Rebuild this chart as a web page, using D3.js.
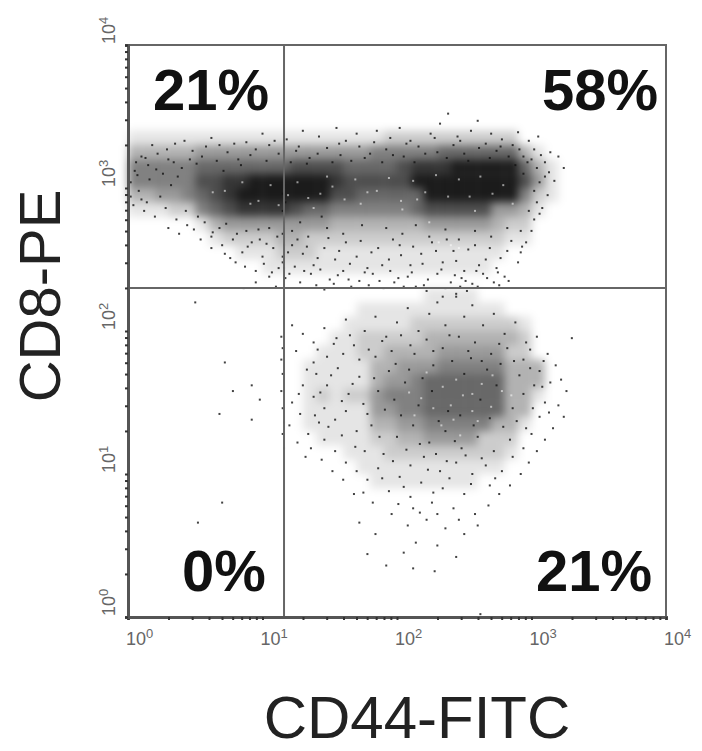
<!DOCTYPE html>
<html>
<head>
<meta charset="utf-8"/>
<script src="https://cdn.jsdelivr.net/npm/d3@7"></script>
<style>
  html, body { margin: 0; background: #fff; }
  text { font-family: "Liberation Sans", Arial, sans-serif; }
</style>
</head>
<body>
<script>
// Everything is in log10 fluorescence (decades).
// The original has many thousands of events; they can't be recovered one by one, so
// densityRows holds the darkness (0-9) read per 0.1 x 0.1 decade cell, the event
// lists hold a hand-read sample of dots and gapEvents the white specks in the dark core.
var decades = [0, 1, 2, 3, 4];
var gateCD44 = 1.16;
var gateCD8 = 2.30;
var quadrantLabels = ["21%", "58%", "0%", "21%"];

var densityTopDecade = 3.4;
var densityRows = [
  "1111111111111111111222222222200000",
  "3333344444444444445555566666631000",
  "5555566666667777666678889999963100",
  "5555577889999998777779999999974100",
  "3344567899999997766666999999952100",
  "1112256788887665555556777774431000",
  "0000013444444443333333444443220000",
  "0000001222233222222222222222110000",
  "0000000011122211111111111111000000",
  "0000000000111111111111111110000000",
  "0000000000000000000000000000000000",
  "0000000000000000000000111100000000",
  "0000000000000000011111111111000000",
  "0000000000000000111112222222210000",
  "0000000000000001122222333333320000",
  "0000000000000011122333344444220000",
  "0000000000000111113344455555333000",
  "0000000000000111113445666666333000",
  "0000000000000121224555666666331000",
  "0000000000000111114455666666330000",
  "0000000000000111113344555553310000",
  "0000000000000011112233444422200000",
  "0000000000000000111222222222100000",
  "0000000000000000011111111111000000",
  "0000000000000000001111111100000000"
];

var upperEvents = [
  [0.18,3.30],[0.35,3.31],[0.42,3.33],[0.62,3.35],[0.68,3.30],[0.88,3.32],[1.00,3.38],[1.05,3.30],[1.18,3.34],[1.30,3.40],
  [1.42,3.36],[1.55,3.42],[1.62,3.33],[1.70,3.38],[1.85,3.40],[1.95,3.35],[2.02,3.42],[2.10,3.33],[2.25,3.38],[2.32,3.45],
  [2.38,3.52],[2.45,3.36],[2.55,3.40],[2.60,3.47],[2.70,3.38],[2.78,3.34],[2.90,3.39],[2.98,3.33],[3.05,3.36],[3.20,3.22],
  [3.24,3.14],[3.14,3.25],[3.10,3.18],[3.17,3.05],[3.12,2.95],[3.08,2.86],[3.02,2.78],[3.00,2.70],[2.96,2.62],[2.92,2.55],
  [0.10,3.22],[0.22,3.24],[0.30,3.20],[0.48,3.26],[0.55,3.22],[0.74,3.25],[0.82,3.20],[0.95,3.27],[1.12,3.24],[1.25,3.26],
  [1.35,3.21],[1.48,3.28],[1.58,3.23],[1.72,3.29],[1.80,3.24],[1.92,3.27],[2.05,3.22],[2.16,3.29],[2.30,3.25],[2.42,3.30],
  [2.50,3.24],[2.66,3.31],[2.74,3.26],[2.86,3.30],[2.94,3.22],[3.02,3.27],[0.05,3.12],[0.15,3.16],[0.26,3.10],[0.40,3.14],
  [0.04,2.88],[0.12,2.84],[0.20,2.80],[0.28,2.86],[0.36,2.78],[0.44,2.74],[0.52,2.80],[0.10,2.92],[0.30,2.72],[0.38,2.68],
  [0.62,2.66],[0.70,2.60],[0.78,2.64],[0.85,2.55],[0.92,2.62],[1.00,2.52],[1.08,2.58],[1.15,2.48],[1.22,2.60],[1.30,2.54],
  [1.38,2.46],[1.46,2.58],[1.54,2.50],[1.62,2.62],[1.70,2.52],[1.78,2.44],[1.86,2.58],[1.94,2.50],[2.02,2.60],[2.10,2.46],
  [2.18,2.54],[2.26,2.62],[2.34,2.48],[2.42,2.56],[2.50,2.42],[2.58,2.60],[2.66,2.50],[2.74,2.44],[2.82,2.56],[2.90,2.48],
  [0.80,2.48],[0.95,2.42],[1.05,2.38],[1.12,2.44],[1.20,2.40],[1.28,2.34],[1.36,2.40],[1.50,2.36],[1.60,2.42],[1.72,2.35],
  [1.82,2.40],[1.98,2.34],[2.08,2.38],[2.20,2.32],[2.30,2.40],[2.40,2.34],[2.48,2.37],[2.56,2.33],[2.64,2.40],[2.72,2.34],
  [2.80,2.38],[0.95,2.34],[1.10,2.31],[1.40,2.32],[1.66,2.31],[1.90,2.30],[2.14,2.31],[2.36,2.30],[2.60,2.31],[2.76,2.32],
  [0.86,2.30],[1.46,2.29],[2.22,2.28],[2.44,2.26],[2.52,2.28],[2.34,2.24],[0.62,2.58],[0.72,2.54],[0.54,2.64],[0.68,2.72],
  [1.16,3.08],[1.16,3.02],[1.15,2.96],[1.17,2.90],[1.15,2.84],[1.16,2.76],[1.15,2.68],[1.16,2.60],[1.15,2.52],[1.16,2.44],
  [1.92,2.72],[2.04,2.68],[2.14,2.74],[2.24,2.66],[2.36,2.71],[2.46,2.64],[2.58,2.70],[2.70,2.66],[2.82,2.72],[2.92,2.70],
  [1.05,2.72],[1.22,2.70],[1.34,2.66],[1.48,2.72],[1.60,2.68],[1.74,2.74],[0.88,2.70],[0.98,2.64],[1.28,2.76],[1.44,2.80],
  [2.88,3.16],[2.94,3.10],[3.00,3.20],[3.04,3.14],[3.06,3.04],[3.02,2.98],[3.10,3.08],[3.04,2.90],[2.98,2.84],[3.06,2.82],
  [0.02,3.04],[0.08,2.98],[0.16,3.06],[0.24,2.94],[0.32,3.02],[0.02,2.94],[0.14,2.90],[0.06,3.18],[0.34,3.18],[0.46,3.20],
  [0.07,3.09],[0.13,3.21],[0.21,3.13],[0.29,3.27],[0.37,3.08],[0.51,3.17],[0.58,3.29],[0.66,3.19],[0.71,3.12],[0.79,3.31],
  [0.84,3.16],[0.91,3.23],[1.03,3.19],[1.09,3.33],[1.21,3.18],[1.27,3.29],[1.33,3.17],[1.41,3.24],[1.52,3.18],[1.57,3.31],
  [1.66,3.19],[1.76,3.21],[1.83,3.32],[1.89,3.18],[1.97,3.23],[2.07,3.31],[2.13,3.18],[2.21,3.24],[2.28,3.35],[2.37,3.21],
  [2.47,3.33],[2.53,3.19],[2.61,3.28],[2.69,3.21],[2.77,3.29],[2.83,3.22],[2.91,3.27],[2.97,3.18],[3.07,3.23],[3.13,3.11],
  [0.43,2.84],[0.49,2.71],[0.57,2.76],[0.63,2.69],[0.73,2.75],[0.81,2.68],[0.89,2.59],[0.97,2.71],[1.03,2.61],[1.11,2.66],
  [1.19,2.55],[1.26,2.64],[1.33,2.59],[1.41,2.51],[1.49,2.65],[1.57,2.56],[1.65,2.47],[1.73,2.63],[1.81,2.55],[1.89,2.46],
  [1.97,2.64],[2.03,2.53],[2.12,2.59],[2.19,2.47],[2.29,2.56],[2.37,2.64],[2.44,2.49],[2.53,2.57],[2.61,2.46],[2.69,2.58],
  [2.77,2.51],[2.85,2.63],[2.93,2.59],[0.76,2.51],[0.87,2.45],[1.01,2.47],[1.07,2.41],[1.17,2.37],[1.24,2.45],[1.31,2.42],
  [1.43,2.43],[1.56,2.39],[1.64,2.36],[1.76,2.41],[1.87,2.35],[1.95,2.42],[2.01,2.37],[2.11,2.41],[2.23,2.36],[2.33,2.43],
  [2.43,2.39],[2.51,2.35],[2.59,2.42],[2.67,2.37],[2.75,2.41],[2.83,2.35],[1.53,2.33],[1.79,2.32],[2.05,2.31],[2.47,2.31]
];

var lowerEvents = [
  [1.22,2.04],[1.30,1.98],[1.25,1.86],[1.38,1.92],[1.46,2.02],[1.55,1.95],[1.62,2.08],[1.68,1.90],[1.76,2.00],[1.84,2.10],
  [1.92,1.96],[2.00,2.06],[2.08,2.16],[2.16,2.00],[2.24,2.12],[2.30,2.20],[2.36,2.04],[2.44,2.24],[2.50,2.10],[2.56,2.18],
  [2.64,2.04],[2.72,2.12],[2.80,1.98],[2.88,2.06],[2.96,1.92],[3.04,1.96],[3.12,1.84],[3.18,1.76],[3.22,1.66],[3.26,1.58],
  [3.20,1.48],[3.24,1.40],[3.16,1.32],[3.10,1.24],[3.04,1.16],[2.98,1.08],[2.92,1.00],[2.84,0.92],[2.76,0.86],[2.68,0.78],
  [1.22,1.50],[1.28,1.42],[1.20,1.34],[1.34,1.28],[1.42,1.36],[1.26,1.22],[1.36,1.18],[1.46,1.24],[1.54,1.16],[1.62,1.08],
  [1.70,1.02],[1.78,0.96],[1.86,1.04],[1.94,0.88],[2.02,0.98],[2.10,0.84],[2.18,0.94],[2.26,0.80],[2.34,0.90],[2.42,0.76],
  [2.50,0.86],[2.58,0.72],[1.68,0.86],[1.82,0.80],[1.96,0.72],[2.08,0.64],[2.22,0.68],[2.36,0.62],[2.50,0.58],[2.14,0.52],
  [2.30,0.50],[1.72,0.66],[1.84,0.58],[2.05,0.45],[2.44,0.42],[1.92,0.36],[2.12,0.34],[2.28,0.32],[1.78,0.44],[2.60,0.64],
  [1.40,1.70],[1.48,1.62],[1.56,1.74],[1.64,1.56],[1.72,1.68],[1.30,1.62],[1.38,1.54],[1.46,1.46],[1.54,1.38],[1.62,1.44],
  [1.70,1.30],[1.78,1.42],[1.86,1.58],[1.94,1.72],[1.32,1.12],[1.52,1.02],[1.60,0.96],[1.44,1.10],[1.76,1.16],[1.90,1.14],
  [1.84,1.82],[1.72,1.80],[1.60,1.84],[1.48,1.82],[1.38,1.78],[1.96,1.86],[2.10,1.90],[2.22,1.94],[2.34,1.88],[2.46,1.96],
  [2.58,1.92],[2.70,1.84],[2.82,1.88],[2.94,1.80],[3.06,1.72],[3.14,1.64],[3.02,1.62],[3.10,1.50],[3.06,1.40],[2.96,1.32],
  [2.10,1.06],[2.20,1.12],[2.32,1.02],[2.44,1.08],[2.56,1.00],[2.66,1.06],[2.78,1.02],[2.86,1.12],[2.12,0.76],[2.30,0.72],
  [2.00,1.26],[2.12,1.34],[2.24,1.22],[2.36,1.30],[2.48,1.18],[2.60,1.26],[2.72,1.16],[2.84,1.24],[2.94,1.18],[3.00,1.28],
  [1.98,1.52],[2.06,1.64],[2.16,1.48],[2.26,1.58],[2.38,1.44],[2.50,1.70],[2.62,1.52],[2.74,1.62],[2.86,1.46],[2.94,1.56],
  [1.33,1.73],[1.43,1.57],[1.51,1.69],[1.59,1.51],[1.67,1.63],[1.75,1.49],[1.83,1.67],[1.91,1.45],[1.99,1.77],[2.03,1.41],
  [2.09,1.73],[2.19,1.67],[2.27,1.76],[2.31,1.37],[2.41,1.79],[2.47,1.41],[2.55,1.81],[2.67,1.73],[2.77,1.77],[2.91,1.69],
  [2.99,1.74],[3.08,1.61],[3.13,1.43],[3.01,1.46],[2.89,1.37],[2.79,1.33],[2.69,1.39],[2.57,1.34],[2.43,1.23],[2.29,1.14],
  [2.17,1.21],[2.07,1.17],[1.97,1.09],[1.87,1.26],[1.81,1.34],[1.69,1.19],[1.59,1.27],[1.49,1.33],[1.39,1.41],[1.27,1.56],
  [1.41,1.87],[1.53,1.91],[1.65,1.97],[1.79,1.87],[1.89,1.93],[2.03,1.97],[2.13,1.84],[2.27,1.86],[2.39,1.97],[2.53,1.86],
  [2.63,1.79],[2.76,1.91],[2.87,1.79],[2.99,1.87],[3.09,1.79],[2.37,1.09],[2.51,1.13],[2.63,1.11],[2.73,0.97],[2.39,0.97],
  [2.23,1.03],[2.05,0.91],[1.89,0.97],[1.75,0.87],[2.46,0.68],[2.17,0.73],[2.01,0.79],[2.27,0.87],[2.55,0.93],[2.69,0.92]
];

var strayEvents = [
  [0.50,2.20],[0.72,1.78],[0.78,1.58],[0.92,1.62],[0.98,1.52],[0.68,1.42],[0.92,1.38],[0.70,0.80],[0.52,0.66],
  [1.14,1.96],[1.15,1.88],[1.14,1.80],[1.15,1.70],[1.14,1.58],[1.15,1.46],[1.16,1.36],[1.15,1.28],[1.16,1.18],
  [2.62,0.02],[3.30,1.95]
];

var gapEvents = [
  [0.72,2.98],[0.85,3.04],[0.97,2.91],[1.06,3.02],[1.19,2.95],[1.26,3.04],[1.34,2.93],[1.43,2.96],[1.52,3.01],[1.61,2.92],
  [1.69,3.06],[1.78,2.97],[1.85,2.98],[1.94,3.07],[2.03,2.91],[2.12,3.05],[2.21,2.97],[2.29,3.09],[2.38,2.94],[2.46,3.06],
  [2.54,2.94],[2.62,3.08],[2.71,2.96],[2.79,3.02],[2.86,2.89],[2.24,2.76],[2.31,2.62],[2.40,2.60],[2.46,2.58],[0.63,2.97],
  [0.91,2.89],[1.12,2.88],[1.38,2.86],[1.73,2.89],[2.04,2.85],[2.58,2.84],[1.16,2.99],[1.16,2.91],[1.48,3.08],[2.15,2.92],
  [2.18,1.53],[2.27,1.46],[2.34,1.61],[2.42,1.38],[2.49,1.55],[2.56,1.44],[2.63,1.63],[2.70,1.47],[2.78,1.58],[2.33,1.34],
  [2.47,1.27],[2.60,1.37],[2.13,1.41],[2.09,1.57],[2.22,1.71],[2.44,1.66],[2.71,1.69],[2.85,1.55],[2.40,1.48],[2.56,1.56]
];

var width = 702, height = 751;
var x = d3.scaleLog().domain([1, 1e4]).range([128, 666]);
var y = d3.scaleLog().domain([1, 1e4]).range([617, 45]);
var fromDecade = function(d) { return Math.pow(10, d); };

var svg = d3.select("body").append("svg")
    .attr("width", width)
    .attr("height", height)
    .style("display", "block");

svg.append("defs").append("filter")
    .attr("id", "soft")
    .attr("x", "-20%").attr("y", "-20%").attr("width", "140%").attr("height", "140%")
  .append("feGaussianBlur")
    .attr("stdDeviation", 4);

// density cells, one group per row of the table
var cells = [];
densityRows.forEach(function(row, r) {
  row.split("").forEach(function(v, c) {
    if (+v > 0) cells.push({ col: c / 10, top: densityTopDecade - r / 10, v: +v });
  });
});
svg.append("g").attr("filter", "url(#soft)").selectAll("rect")
    .data(cells)
  .enter().append("rect")
    .attr("x", function(d) { return x(fromDecade(d.col)); })
    .attr("y", function(d) { return y(fromDecade(d.top)); })
    .attr("width", function(d) { return x(fromDecade(d.col + 0.1)) - x(fromDecade(d.col)); })
    .attr("height", function(d) { return y(fromDecade(d.top - 0.1)) - y(fromDecade(d.top)); })
    .attr("fill", "#000")
    .attr("fill-opacity", function(d) { return d.v / 9 * 0.9; });

function drawDots(data, colour, opacity) {
  svg.append("g").selectAll("rect")
      .data(data)
    .enter().append("rect")
      .attr("x", function(d) { return x(fromDecade(d[0])) - 1; })
      .attr("y", function(d) { return y(fromDecade(d[1])) - 1; })
      .attr("width", 2)
      .attr("height", 2)
      .attr("fill", colour)
      .attr("fill-opacity", opacity);
}
drawDots(upperEvents.concat(lowerEvents, strayEvents), "#111", 0.8);
drawDots(gapEvents, "#fff", 0.55);

// frame and quadrant gates
var frame = svg.append("g").attr("fill", "none").attr("stroke", "#666");
frame.append("rect")
    .attr("x", x(1)).attr("y", y(1e4))
    .attr("width", x(1e4) - x(1)).attr("height", y(1) - y(1e4))
    .attr("stroke-width", 2);
frame.append("line")
    .attr("x1", x(fromDecade(gateCD44))).attr("x2", x(fromDecade(gateCD44)))
    .attr("y1", y(1e4)).attr("y2", y(1))
    .attr("stroke-width", 2);
frame.append("line")
    .attr("x1", x(1)).attr("x2", x(1e4))
    .attr("y1", y(fromDecade(gateCD8))).attr("y2", y(fromDecade(gateCD8)))
    .attr("stroke-width", 2);

// log minor ticks
var xAxis = d3.axisBottom(x).tickValues(x.ticks()).tickSize(3).tickFormat("");
var yAxis = d3.axisLeft(y).tickValues(y.ticks()).tickSize(3).tickFormat("");
var gx = svg.append("g").attr("transform", "translate(0," + y(1) + ")").call(xAxis);
var gy = svg.append("g").attr("transform", "translate(" + x(1) + ",0)").call(yAxis);
[gx, gy].forEach(function(g) {
  g.select(".domain").attr("stroke", "#555").attr("stroke-width", 3);
  g.selectAll(".tick line").attr("stroke", "#333").attr("stroke-width", 2);
});

// decade labels, grey, with the exponent raised
function decadeLabel(sel) {
  sel.attr("fill", "#666").attr("font-size", 18);
  sel.append("tspan").text("10");
  sel.append("tspan").attr("font-size", 13).attr("dy", -7).text(function(d) { return d; });
}
svg.append("g").selectAll("text")
    .data(decades)
  .enter().append("text")
    .attr("x", function(d) { return x(fromDecade(d)) - 2; })
    .attr("y", 645)
    .call(decadeLabel);
svg.append("g").selectAll("text")
    .data(decades)
  .enter().append("text")
    .attr("transform", function(d) { return "translate(115," + (y(fromDecade(d)) - 1) + ") rotate(-90)"; })
    .call(decadeLabel);

// quadrant percentages
svg.append("g").selectAll("text")
    .data(quadrantLabels)
  .enter().append("text")
    .attr("x", function(d, i) { return [153, 658, 182, 652][i]; })
    .attr("y", function(d, i) { return [110, 110, 591, 591][i]; })
    .attr("text-anchor", function(d, i) { return i % 2 ? "end" : "start"; })
    .attr("font-size", 58)
    .attr("font-weight", "bold")
    .attr("fill", "#111")
    .text(function(d) { return d; });

svg.append("text")
    .attr("x", 417).attr("y", 738)
    .attr("text-anchor", "middle")
    .attr("font-size", 60)
    .attr("fill", "#222")
    .text("CD44-FITC");
svg.append("text")
    .attr("transform", "translate(60,296) rotate(-90)")
    .attr("text-anchor", "middle")
    .attr("font-size", 58)
    .attr("fill", "#222")
    .text("CD8-PE");
</script>
</body>
</html>
